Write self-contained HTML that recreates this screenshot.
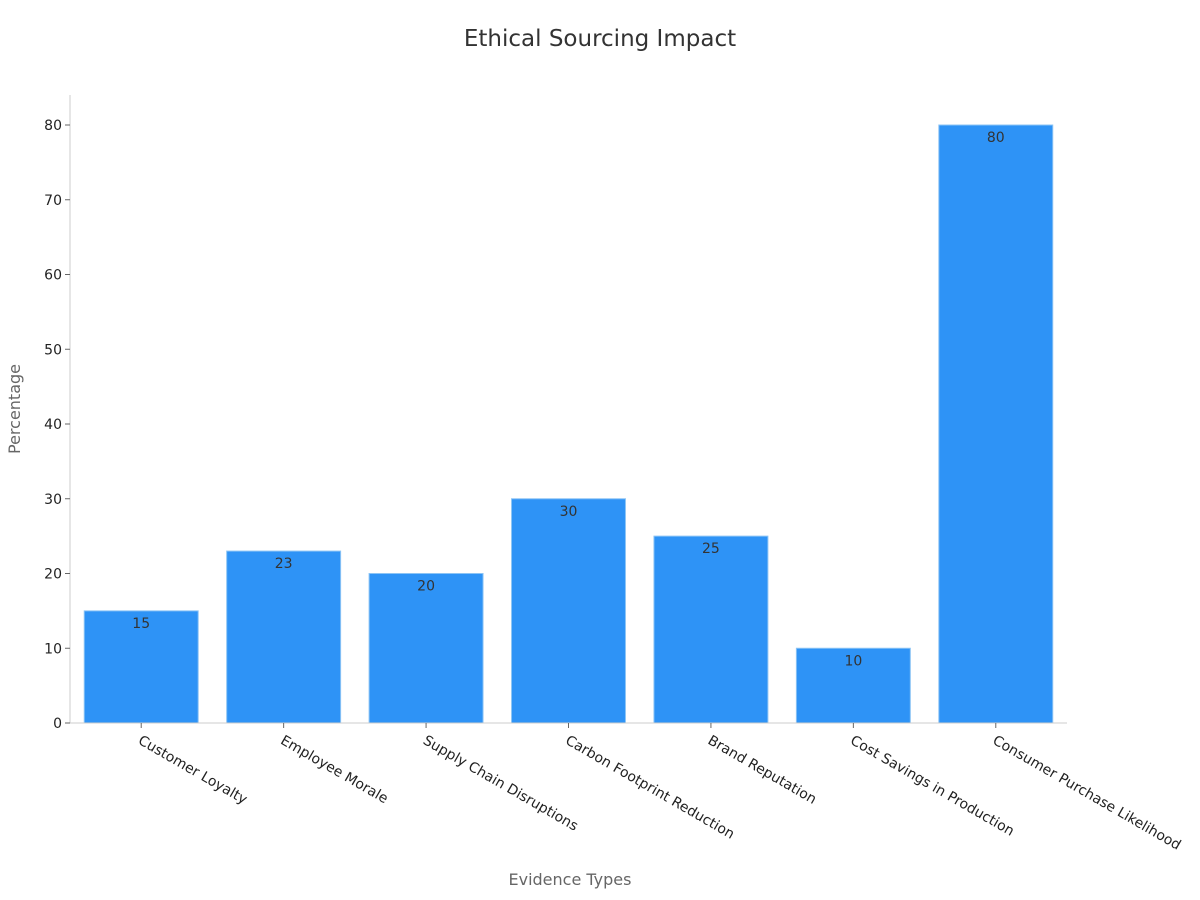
<!DOCTYPE html>
<html><head><meta charset="utf-8"><style>
html,body{margin:0;padding:0;background:#fff;width:1200px;height:900px;overflow:hidden;font-family:"Liberation Sans","DejaVu Sans",sans-serif}
</style></head><body>
<svg id="chart" width="1200" height="900" xmlns="http://www.w3.org/2000/svg">
<text x="600" y="46" text-anchor="middle" font-family="DejaVu Sans, sans-serif" font-size="23" fill="#333">Ethical Sourcing Impact</text>
<text transform="translate(20,409) rotate(-90)" text-anchor="middle" font-family="DejaVu Sans, sans-serif" font-size="16" fill="#666">Percentage</text>
<text x="570" y="885" text-anchor="middle" font-family="DejaVu Sans, sans-serif" font-size="16" fill="#666">Evidence Types</text>
<g id="grid"></g>
<g id="bars"></g>
<g id="axes"></g>
</svg>
<script>
const categories = ["Customer Loyalty","Employee Morale","Supply Chain Disruptions","Carbon Footprint Reduction","Brand Reputation","Cost Savings in Production","Consumer Purchase Likelihood"];
const values = [15,23,20,30,25,10,80];
const yTicks = [0,10,20,30,40,50,60,70,80];
const NS="http://www.w3.org/2000/svg";
const X0=70,X1=1067,Y0=723,YTOP=95;
function yScale(v){return Y0-v*(723-125)/80;}
const band=(X1-X0)/categories.length;
function xCenter(i){return X0+band*(i+0.5);}
function mk(tag,attrs,parent){const e=document.createElementNS(NS,tag);for(const k in attrs)e.setAttribute(k,attrs[k]);parent.appendChild(e);return e;}
const axes=document.getElementById('axes'),bars=document.getElementById('bars');
const ya=mk('line',{x1:X0,y1:YTOP,x2:X0,y2:Y0,stroke:'#ccc','stroke-width':1},axes);


const xa=mk('line',{x1:X0,y1:Y0,x2:X1,y2:Y0,stroke:'#ccc','stroke-width':1},axes);


yTicks.forEach(t=>{
  const y=yScale(t);
  const tk=mk('line',{x1:X0-5,y1:y,x2:X0,y2:y,stroke:'#666'},axes);
  
  
  const tx=mk('text',{x:X0-8,y:y+5,'text-anchor':'end','font-size':14,'font-family':'DejaVu Sans, sans-serif',fill:'#222'},axes);
  tx.textContent=t;
  
  
});
categories.forEach((c,i)=>{
  const cx=xCenter(i),w=band*0.8,y=yScale(values[i]);
  const r=mk('rect',{x:cx-w/2,y:y,width:w,height:Y0-y,fill:'#2E93F6',stroke:'#8cc4f5','stroke-width':1},bars);
  
  
  const v=mk('text',{x:cx,y:y+17,'text-anchor':'middle','font-size':14,'font-family':'DejaVu Sans, sans-serif',fill:'#333'},bars);
  v.textContent=values[i];
  
  
  const tk=mk('line',{x1:cx,y1:Y0,x2:cx,y2:Y0+5,stroke:'#666'},axes);
  
  
  const lb=mk('text',{transform:'translate('+(cx-4)+','+(Y0+20)+') rotate(30)','font-size':14,'font-family':'DejaVu Sans, sans-serif',fill:'#222'},axes);
  lb.textContent=c;
  
  
});
</script>
</body></html>
